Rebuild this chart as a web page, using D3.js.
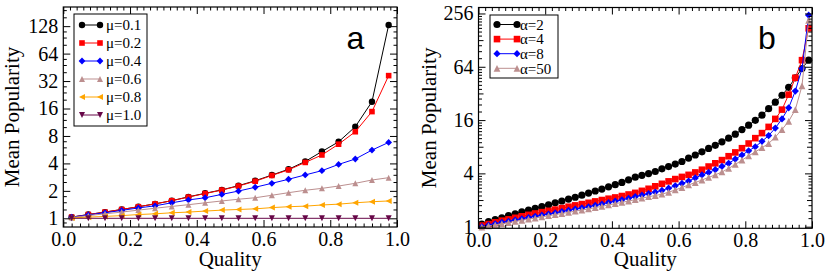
<!DOCTYPE html>
<html><head><meta charset="utf-8">
<script src="https://cdn.jsdelivr.net/npm/d3@7"></script>
<style>
body{margin:0;background:#fff;}
svg{display:block;}
</style></head>
<body><svg id="c" width="830" height="275"></svg>
<script>
// ---------- DATA ----------
const qualityA = [0.025,0.075,0.125,0.175,0.225,0.275,0.325,0.375,0.425,0.475,0.525,0.575,0.625,0.675,0.725,0.775,0.825,0.875,0.925,0.975];
const mu01 = [1.03,1.10,1.17,1.25,1.34,1.44,1.56,1.72,1.88,2.05,2.28,2.58,2.98,3.45,4.2,5.4,6.9,10.1,19,132];
const mu02 = [1.03,1.10,1.17,1.25,1.34,1.44,1.56,1.71,1.87,2.04,2.26,2.55,2.95,3.4,4.1,4.95,6.5,8.9,14.8,36.7];
const mu04 = [1.03,1.09,1.15,1.22,1.30,1.37,1.48,1.59,1.68,1.83,1.99,2.19,2.42,2.68,2.99,3.33,3.9,4.47,5.6,6.8];
const mu06 = [1.02,1.07,1.12,1.17,1.23,1.29,1.35,1.41,1.48,1.55,1.62,1.68,1.79,1.91,2.03,2.13,2.26,2.42,2.63,2.79];
const mu08 = [1.01,1.03,1.05,1.07,1.10,1.12,1.15,1.17,1.20,1.23,1.25,1.27,1.31,1.34,1.36,1.40,1.43,1.48,1.52,1.55];
const mu10 = [1,1,1,1,1,1,1,1,1,1,1,1,1,1,1,1,1,1,1,1];
const muLabels = ["μ=0.1","μ=0.2","μ=0.4","μ=0.6","μ=0.8","μ=1.0"];

const qualityB = [0.01,0.03,0.05,0.07,0.09,0.11,0.13,0.15,0.17,0.19,0.21,0.23,0.25,0.27,0.29,0.31,0.33,0.35,0.37,0.39,0.41,0.43,0.45,0.47,0.49,0.51,0.53,0.55,0.57,0.59,0.61,0.63,0.65,0.67,0.69,0.71,0.73,0.75,0.77,0.79,0.81,0.83,0.85,0.87,0.89,0.91,0.93,0.95,0.97,0.99];
const alpha2 = [1.07,1.14,1.20,1.26,1.33,1.40,1.47,1.54,1.61,1.69,1.77,1.86,1.95,2.05,2.15,2.27,2.40,2.53,2.66,2.82,2.98,3.16,3.38,3.62,3.80,3.98,4.20,4.50,4.78,5.10,5.45,5.95,6.45,7.0,7.65,8.3,9.1,10.0,11.1,12.5,14.0,15.9,18.2,21.5,25.5,30.5,37.5,48,61,76];
const alpha4 = [1.03,1.07,1.12,1.17,1.21,1.26,1.31,1.36,1.41,1.46,1.51,1.56,1.62,1.68,1.74,1.80,1.86,1.93,2.00,2.07,2.14,2.22,2.31,2.41,2.54,2.68,2.86,3.05,3.25,3.45,3.65,3.85,4.1,4.4,4.78,5.2,5.65,6.25,6.9,7.7,8.7,10.0,11.4,13.4,16.5,21,31,48,76,174];
const alpha8 = [1.00,1.04,1.08,1.12,1.15,1.19,1.23,1.27,1.31,1.35,1.39,1.43,1.48,1.53,1.58,1.63,1.68,1.74,1.80,1.87,1.94,2.01,2.09,2.18,2.27,2.36,2.46,2.57,2.72,2.90,3.08,3.28,3.55,3.84,4.1,4.4,4.8,5.2,5.8,6.45,7.2,8.0,9.2,10.7,13,16.5,22,34,61,245];
const alpha50 = [0.99,1.02,1.05,1.08,1.11,1.15,1.18,1.22,1.25,1.29,1.33,1.37,1.41,1.45,1.50,1.54,1.59,1.64,1.70,1.76,1.82,1.88,1.95,2.02,2.10,2.18,2.25,2.33,2.45,2.60,2.77,2.96,3.15,3.37,3.60,3.85,4.15,4.55,5.05,5.65,6.3,7.0,7.8,8.7,10.3,12.5,15.5,21,39,214];
const alphaLabels = ["α=2","α=4","α=8","α=50"];

const xTicks = [0,0.2,0.4,0.6,0.8,1.0];
const yTicksA = [1,2,4,8,16,32,64,128];
const yTicksB = [1,4,16,64,256];

// ---------- STYLE ----------
const SERIF = "'Liberation Serif','Times New Roman',serif";
const SANS = "'Liberation Sans',Arial,sans-serif";
const colors = {black:"#000000",red:"#ff0000",blue:"#0000ff",rosy:"#bc8f8f",orange:"#ffa500",maroon:"#670748"};

function markerPath(kind, s){
  switch(kind){
    case "circle": return `M${s},0A${s},${s} 0 1,1 ${-s},0A${s},${s} 0 1,1 ${s},0Z`;
    case "square": return `M${-s},${-s}H${s}V${s}H${-s}Z`;
    case "diamond": return `M0,${-s}L${s},0L0,${s}L${-s},0Z`;
    case "tri-up": return `M0,${-s}L${s},${s}L${-s},${s}Z`;
    case "tri-left": return `M${-s},0L${s},${-s}L${s},${s}Z`;
    case "tri-down": return `M0,${s}L${s},${-s}L${-s},${-s}Z`;
  }
}

const svg = d3.select("#c");

function drawPanel(cfg){
  const g = svg.append("g");
  const x = d3.scaleLinear().domain([0,1]).range(cfg.xr);
  const y = d3.scaleLog().base(2).domain(cfg.yd).range(cfg.yr);
  const [x0,x1] = cfg.xr, [y0,y1] = [cfg.yr[1], cfg.yr[0]];

  const line = d3.line().x(d=>x(d[0])).y(d=>y(d[1]));
  cfg.series.forEach(s=>{
    const pts = cfg.xs.map((q,i)=>[q,s.values[i]]);
    g.append("path").attr("d",line(pts)).attr("fill","none").attr("stroke",s.color).attr("stroke-width",1);
    g.selectAll(null).data(pts).enter().append("path")
      .attr("d",markerPath(s.marker,s.size))
      .attr("transform",d=>`translate(${x(d[0])},${y(d[1])})`)
      .attr("fill",s.color);
  });

  const mk = (ax)=>{ const a = g.append("g").call(ax); a.select(".domain").remove();
    a.selectAll("line").attr("stroke","#000").attr("stroke-width",1);
    a.selectAll("text").style("font-family",SERIF).style("font-size","20px").attr("fill","#000");
    return a; };
  mk(d3.axisBottom(x).tickValues(xTicks).tickSize(-7).tickPadding(5).tickFormat(d3.format(".1f"))).attr("transform",`translate(0,${y1})`);
  mk(d3.axisBottom(x).tickValues(cfg.xMinorBottom).tickSize(-3.5).tickFormat("")).attr("transform",`translate(0,${y1})`);
  mk(d3.axisTop(x).tickValues(xTicks).tickSize(-7).tickFormat("")).attr("transform",`translate(0,${y0})`);
  mk(d3.axisTop(x).tickValues(cfg.xMinorTop).tickSize(-3.5).tickFormat("")).attr("transform",`translate(0,${y0})`);

  mk(d3.axisLeft(y).tickValues(cfg.yTicks).tickSize(-7).tickPadding(5).tickFormat(d3.format("d"))).attr("transform",`translate(${x0},0)`);
  if(cfg.yMid) mk(d3.axisLeft(y).tickValues(cfg.yMid).tickSize(-5).tickFormat("")).attr("transform",`translate(${x0},0)`);
  mk(d3.axisLeft(y).tickValues(cfg.yMinor).tickSize(-3.5).tickFormat("")).attr("transform",`translate(${x0},0)`);
  mk(d3.axisRight(y).tickValues(cfg.yTicks).tickSize(-7).tickFormat("")).attr("transform",`translate(${x1},0)`);
  if(cfg.yMid) mk(d3.axisRight(y).tickValues(cfg.yMid).tickSize(-5).tickFormat("")).attr("transform",`translate(${x1},0)`);
  mk(d3.axisRight(y).tickValues(cfg.yMinor).tickSize(-3.5).tickFormat("")).attr("transform",`translate(${x1},0)`);

  g.append("rect").attr("x",x0).attr("y",y0).attr("width",x1-x0).attr("height",y1-y0)
    .attr("fill","none").attr("stroke","#000").attr("stroke-width",1.2);

  g.append("text").attr("x",(x0+x1)/2).attr("y",266).attr("text-anchor","middle")
    .style("font-family",SERIF).style("font-size","21px").text("Quality");
  g.append("text").attr("transform",`translate(${cfg.ylabX},${(y0+y1)/2}) rotate(-90)`).attr("text-anchor","middle")
    .style("font-family",SERIF).style("font-size","21px").text("Mean Popularity");
  g.append("text").attr("x",cfg.letter[1]).attr("y",cfg.letter[2]).attr("text-anchor","middle")
    .style("font-family",SANS).style("font-size","32px").text(cfg.letter[0]);

  const L = cfg.legend;
  const lg = g.append("g");
  lg.append("rect").attr("x",L.x).attr("y",L.y).attr("width",L.w).attr("height",L.h).attr("fill","#fff").attr("stroke","#000").attr("stroke-width",1);
  cfg.series.forEach((s,i)=>{
    const yy = L.y0 + i*L.dy;
    lg.append("line").attr("x1",L.lx0).attr("x2",L.lx1).attr("y1",yy).attr("y2",yy).attr("stroke",s.color).attr("stroke-width",1);
    [L.lx0,L.lx1].forEach(xx=>lg.append("path").attr("d",markerPath(s.marker,s.size)).attr("transform",`translate(${xx},${yy})`).attr("fill",s.color));
    lg.append("text").attr("x",L.tx).attr("y",yy).attr("dy","0.35em")
      .style("font-family",SERIF).style("font-size",L.fs+"px").text(s.label);
  });
}

function linMinor(ticks, step){
  const out=[]; for(let i=0;i<ticks.length-1;i++){ const a=ticks[i], b=ticks[i+1]; const st=(b-a)/step; for(let k=1;k<step;k++) out.push(a+k*st);} return out; }

drawPanel({
  xr:[63.3,397], yr:[227,7], yd:[0.803,207.6],
  xs: qualityA,
  series:[
    {values:mu01,color:colors.black,marker:"circle",size:3.2,label:muLabels[0]},
    {values:mu02,color:colors.red,marker:"square",size:2.8,label:muLabels[1]},
    {values:mu04,color:colors.blue,marker:"diamond",size:3.4,label:muLabels[2]},
    {values:mu06,color:colors.rosy,marker:"tri-up",size:3,label:muLabels[3]},
    {values:mu08,color:colors.orange,marker:"tri-left",size:3,label:muLabels[4]},
    {values:mu10,color:colors.maroon,marker:"tri-down",size:3,label:muLabels[5]}
  ],
  xMinorBottom: linMinor(xTicks,8),
  xMinorTop: linMinor(xTicks,10),
  yTicks: yTicksA,
  yMinor: linMinor(yTicksA.concat([256]),4).concat([0.9]).filter(v=>v<207),
  ylabX: 19,
  letter:["a",355.5,49],
  legend:{x:74,y:14,w:73,h:112,y0:25,dy:18,lx0:82,lx1:100,tx:106,fs:15}
});

drawPanel({
  xr:[478.5,812], yr:[228.3,7.5], yd:[0.959,299],
  xs: qualityB,
  series:[
    {values:alpha2,color:colors.black,marker:"circle",size:3.6,label:alphaLabels[0]},
    {values:alpha4,color:colors.red,marker:"square",size:3.3,label:alphaLabels[1]},
    {values:alpha8,color:colors.blue,marker:"diamond",size:3.6,label:alphaLabels[2]},
    {values:alpha50,color:colors.rosy,marker:"tri-up",size:3.4,label:alphaLabels[3]}
  ],
  xMinorBottom: linMinor(xTicks,10),
  xMinorTop: linMinor(xTicks,10),
  yTicks: yTicksB,
  yMid: [2,8,32,128],
  yMinor: linMinor(yTicksB,12).filter(v=>![2,8,32,128].includes(v)),
  ylabX: 436,
  letter:["b",767,49],
  legend:{x:490,y:15,w:68,h:63,y0:24.5,dy:14.6,lx0:497,lx1:517,tx:520,fs:15}
});
</script></body></html>
